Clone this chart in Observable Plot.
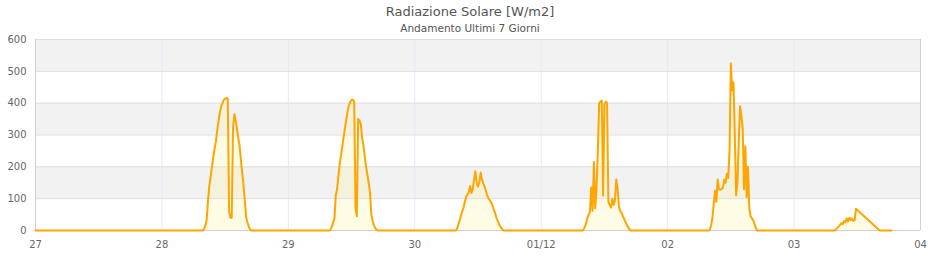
<!DOCTYPE html>
<html>
<head>
<meta charset="utf-8">
<script src="https://cdn.jsdelivr.net/npm/d3@7"></script>
<script src="https://cdn.jsdelivr.net/npm/@observablehq/plot@0.6"></script>
<style>
  body { margin: 0; background: #fff; font-family: "DejaVu Sans", sans-serif; }
  #head { width: 940px; height: 34px; text-align: center; }
  #title { font-size: 13px; line-height: 13px; color: #555; padding-top: 5px; }
  #subtitle { font-size: 10.5px; line-height: 10px; color: #555; margin-top: 5px; }
</style>
</head>
<body>
<div id="head">
  <div id="title">Radiazione Solare [W/m2]</div>
  <div id="subtitle">Andamento Ultimi 7 Giorni</div>
</div>
<div id="chart"></div>
<script>
// --- data (W/m2), daytime readings every 15 minutes starting at 07:45 ---
const dayStartHour = 7.75;
const stepHours = 0.25;
const day28 = [0,5,15,35,95,140,170,200,230,258,280,315,345,370,390,400,410,414,416,415,60,40,40,325,365,345,320,290,265,220,180,140,90,40,25,12,3,0];
const day29 = [0,3,12,25,38,110,130,170,210,235,265,295,322,350,375,393,404,410,411,405,70,45,350,345,335,293,268,232,200,175,150,120,50,30,16,8,2,0];
const day30 = [0,5,18,30,46,60,72,90,105,113,120,140,118,130,160,186,150,138,150,182,160,148,138,124,110,100,95,88,78,65,55,40,30,20,12,6,1,0];
const day01 = [0,2,10,22,38,50,58,135,62,215,70,130,250,400,405,408,110,395,405,400,90,80,72,100,80,95,160,130,75,62,55,45,36,27,18,10,4,0];
const day02 = [0,3,15,40,83,125,90,160,130,128,130,135,160,150,178,165,250,525,440,465,300,110,150,280,390,360,320,130,265,105,200,70,45,38,32,20,8,0];
const day03 = [0,5,9,13,18,23,20,30,26,38,28,40,33,38,30,32,68];
// last day: after the 11:45 reading, next readings
const day03LateHours = [16.25, 18.5];
const day03LateValues = [0, 0];

const xTickLabels = ["27", "28", "29", "30", "01/12", "02", "03", "04"];
const yTicks = [0, 100, 200, 300, 400, 500, 600];
const bandRanges = [[100, 200], [300, 400], [500, 600]];

// --- build time series ---
const dayDate = (i, h) => new Date(2024, 10, 27 + i, 0, Math.round(h * 60));
const series = [{t: dayDate(0, 0), v: 0}];
[[1, day28], [2, day29], [3, day30], [4, day01], [5, day02], [6, day03]].forEach(([i, arr]) => {
  arr.forEach((v, k) => series.push({t: dayDate(i, dayStartHour + k * stepHours), v}));
});
day03LateHours.forEach((h, k) => series.push({t: dayDate(6, h), v: day03LateValues[k]}));

const x0 = dayDate(0, 0), x1 = dayDate(7, 0);
const dayTicks = xTickLabels.map((_, i) => dayDate(i, 0));

const chart = Plot.plot({
  width: 940,
  height: 226,
  marginLeft: 35,
  marginRight: 20,
  marginTop: 5,
  marginBottom: 30,
  style: {fontFamily: "DejaVu Sans, sans-serif", fontSize: "10px", color: "#666", background: "#fff"},
  x: {type: "time", domain: [x0, x1], ticks: dayTicks, tickFormat: (d, i) => xTickLabels[i], tickSize: 0, tickPadding: 10, label: null},
  y: {domain: [0, 600], ticks: yTicks, tickSize: 0, tickPadding: 9, label: null},
  marks: [
    Plot.rect(bandRanges, {x1: () => x0, x2: () => x1, y1: d => d[0], y2: d => d[1], fill: "#f2f2f2"}),
    Plot.areaY(series, {x: "t", y: "v", fill: "#fff59d", fillOpacity: 0.25}),
    Plot.ruleX(dayTicks.slice(1, -1), {stroke: "#e8e8f6", strokeWidth: 1}),
    Plot.ruleY(yTicks.slice(1), {stroke: "#dedede", strokeWidth: 1}),
    Plot.ruleX([x0, x1], {stroke: "#d0d0d0", strokeWidth: 1}),
    Plot.ruleY([0], {stroke: "#d0d0d0", strokeWidth: 1}),
    Plot.lineY(series, {x: "t", y: "v", stroke: "#FFA500", strokeWidth: 2, curve: "linear"})
  ]
});
document.getElementById("chart").appendChild(chart);
</script>
</body>
</html>
